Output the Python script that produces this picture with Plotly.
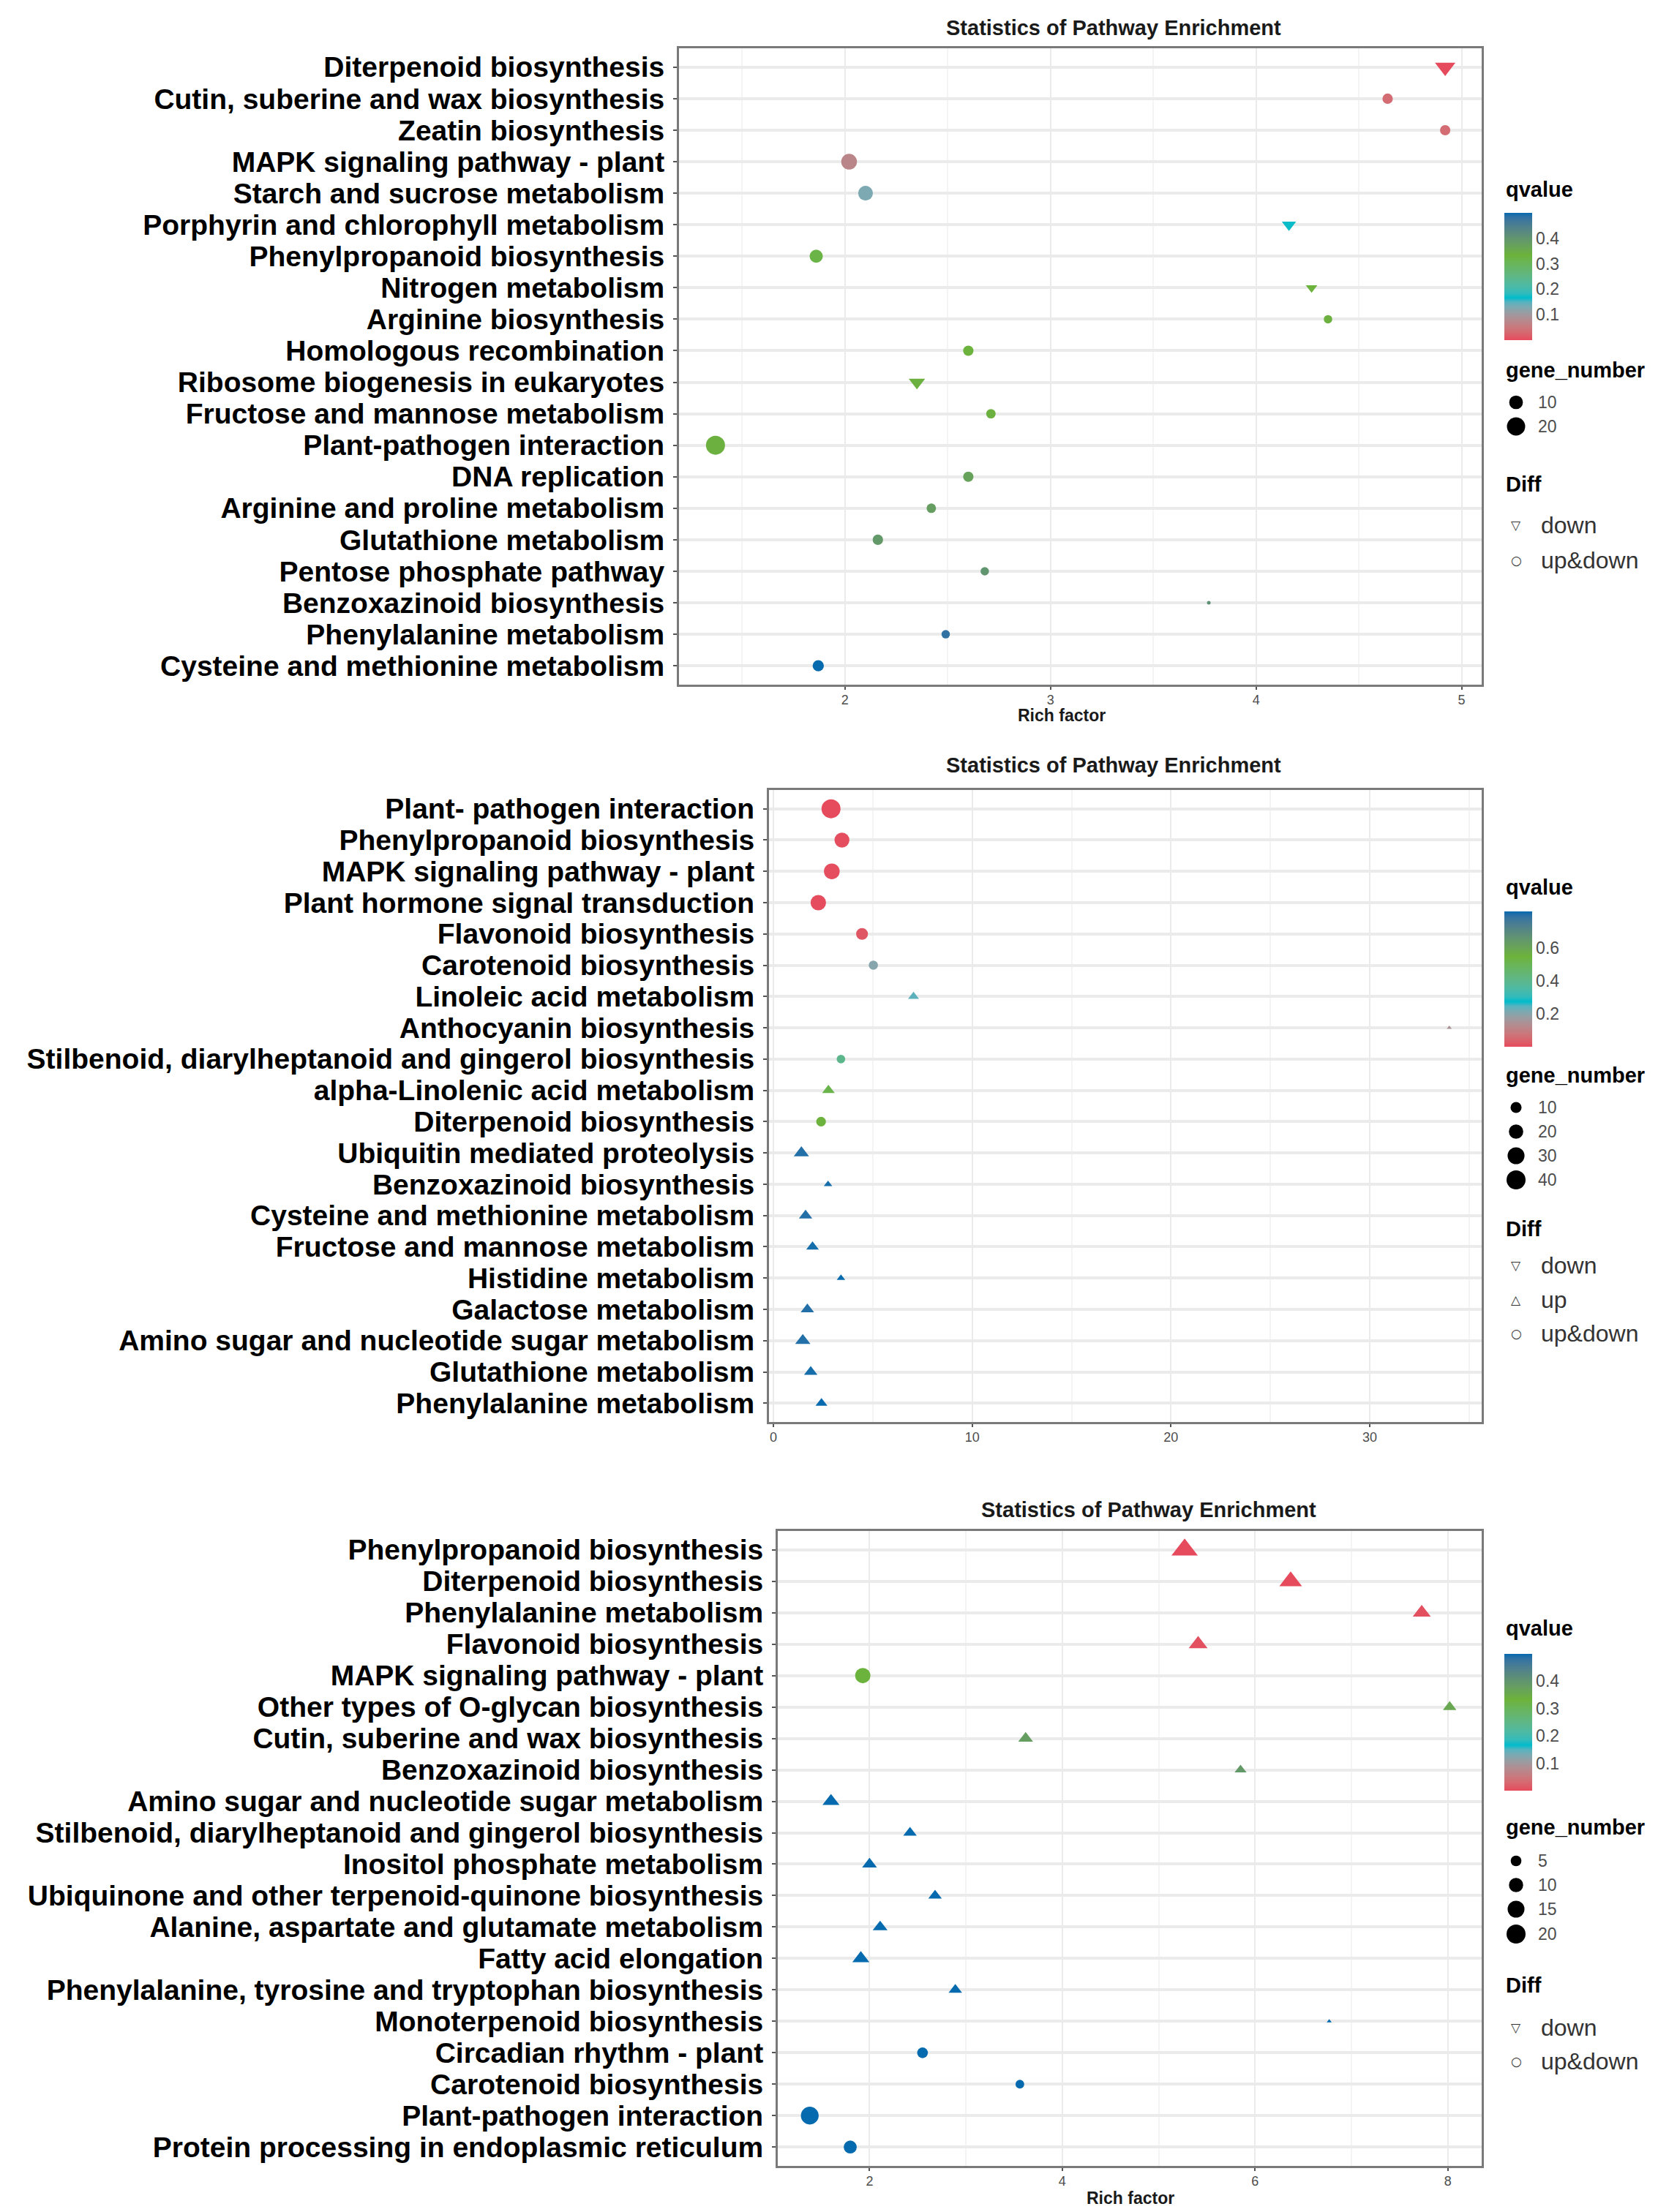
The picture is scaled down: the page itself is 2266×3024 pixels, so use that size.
import plotly.graph_objects as go
import numpy as np

# ---------------- DATA ----------------
# Panel 1
p1_pathways = ["Diterpenoid biosynthesis", "Cutin, suberine and wax biosynthesis", "Zeatin biosynthesis",
               "MAPK signaling pathway - plant", "Starch and sucrose metabolism",
               "Porphyrin and chlorophyll metabolism", "Phenylpropanoid biosynthesis", "Nitrogen metabolism",
               "Arginine biosynthesis", "Homologous recombination", "Ribosome biogenesis in eukaryotes",
               "Fructose and mannose metabolism", "Plant-pathogen interaction", "DNA replication",
               "Arginine and proline metabolism", "Glutathione metabolism", "Pentose phosphate pathway",
               "Benzoxazinoid biosynthesis", "Phenylalanine metabolism", "Cysteine and methionine metabolism"]
p1_rich = [4.92, 4.64, 4.92, 2.02, 2.10, 4.16, 1.86, 4.27, 4.35, 2.60, 2.35, 2.71, 1.37, 2.60, 2.42, 2.16,
           2.68, 3.77, 2.49, 1.87]
p1_q = [0.0, 0.035, 0.035, 0.07, 0.13, 0.17, 0.32, 0.33, 0.34, 0.33, 0.34, 0.34, 0.34, 0.37, 0.38, 0.39,
        0.40, 0.41, 0.48, 0.50]
p1_genes = [12, 5, 5, 14, 12, 5, 9, 3, 3, 5, 7, 4, 22, 5, 4, 5, 3, 1, 3, 6]
p1_diff = ["down", "up&down", "up&down", "up&down", "up&down", "down", "up&down", "down", "up&down",
           "up&down", "down", "up&down", "up&down", "up&down", "up&down", "up&down", "up&down", "up&down",
           "up&down", "up&down"]
p1_qticks = [0.1, 0.2, 0.3, 0.4]
p1_size_breaks = [10, 20]
p1_diff_legend = ["down", "up&down"]

# Panel 2
p2_pathways = ["Plant- pathogen interaction", "Phenylpropanoid biosynthesis", "MAPK signaling pathway - plant",
               "Plant hormone signal transduction", "Flavonoid biosynthesis", "Carotenoid biosynthesis",
               "Linoleic acid metabolism", "Anthocyanin biosynthesis",
               "Stilbenoid, diarylheptanoid and gingerol biosynthesis", "alpha-Linolenic acid metabolism",
               "Diterpenoid biosynthesis", "Ubiquitin mediated proteolysis", "Benzoxazinoid biosynthesis",
               "Cysteine and methionine metabolism", "Fructose and mannose metabolism", "Histidine metabolism",
               "Galactose metabolism", "Amino sugar and nucleotide sugar metabolism", "Glutathione metabolism",
               "Phenylalanine metabolism"]
p2_rich = [2.9, 3.45, 2.94, 2.26, 4.46, 5.03, 7.05, 34.0, 3.4, 2.77, 2.4, 1.41, 2.75, 1.62, 1.97, 3.4,
           1.71, 1.48, 1.88, 2.42]
p2_q = [0.0, 0.005, 0.005, 0.002, 0.02, 0.2, 0.24, 0.15, 0.4, 0.52, 0.55, 0.80, 0.81, 0.80, 0.81, 0.82,
        0.80, 0.80, 0.81, 0.82]
p2_genes = [40, 22, 25, 24, 12, 6, 4, 1, 5, 6, 7, 10, 2, 7, 6, 2, 7, 10, 7, 5]
p2_diff = ["up&down", "up&down", "up&down", "up&down", "up&down", "up&down", "up", "up", "up&down", "up",
           "up&down", "up", "up", "up", "up", "up", "up", "up", "up", "up"]
p2_qticks = [0.2, 0.4, 0.6]
p2_size_breaks = [10, 20, 30, 40]
p2_diff_legend = ["down", "up", "up&down"]

# Panel 3
p3_pathways = ["Phenylpropanoid biosynthesis", "Diterpenoid biosynthesis", "Phenylalanine metabolism",
               "Flavonoid biosynthesis", "MAPK signaling pathway - plant", "Other types of O-glycan biosynthesis",
               "Cutin, suberine and wax biosynthesis", "Benzoxazinoid biosynthesis",
               "Amino sugar and nucleotide sugar metabolism",
               "Stilbenoid, diarylheptanoid and gingerol biosynthesis", "Inositol phosphate metabolism",
               "Ubiquinone and other terpenoid-quinone biosynthesis",
               "Alanine, aspartate and glutamate metabolism", "Fatty acid elongation",
               "Phenylalanine, tyrosine and tryptophan biosynthesis", "Monoterpenoid biosynthesis",
               "Circadian rhythm - plant", "Carotenoid biosynthesis", "Plant-pathogen interaction",
               "Protein processing in endoplasmic reticulum"]
p3_rich = [5.27, 6.37, 7.73, 5.41, 1.93, 8.02, 3.62, 5.85, 1.60, 2.42, 2.00, 2.68, 2.11, 1.91, 2.89, 6.77,
           2.55, 3.56, 1.38, 1.80]
p3_q = [0.0, 0.0, 0.005, 0.005, 0.33, 0.36, 0.38, 0.39, 0.50, 0.50, 0.50, 0.50, 0.50, 0.50, 0.50, 0.50,
        0.50, 0.50, 0.50, 0.50]
p3_genes = [20, 14, 8, 9, 12, 4, 5, 3, 7, 4, 5, 4, 5, 7, 4, 1, 5, 3, 17, 8]
p3_diff = ["up", "up", "up", "up", "up&down", "up", "up", "up", "up", "up", "up", "up", "up", "up", "up",
           "up", "up&down", "up&down", "up&down", "up&down"]
p3_qticks = [0.1, 0.2, 0.3, 0.4]
p3_size_breaks = [5, 10, 15, 20]
p3_diff_legend = ["down", "up&down"]

TITLE = "Statistics of Pathway Enrichment"
XTITLE = "Rich factor"

# ---------------- STYLE HELPERS ----------------
W, H = 2266, 3024


def hex2rgb(h):
    h = h.lstrip("#")
    return [int(h[i:i + 2], 16) / 255 for i in (0, 2, 4)]


def rgb2lab(c):
    lin = [((v + 0.055) / 1.055) ** 2.4 if v > 0.04045 else v / 12.92 for v in c]
    M = np.array([[0.4124, 0.3576, 0.1805], [0.2126, 0.7152, 0.0722], [0.0193, 0.1192, 0.9505]])
    X, Y, Z = M @ np.array(lin)
    X /= 0.95047; Z /= 1.08883

    def f(t):
        return t ** (1 / 3) if t > 0.008856 else 7.787 * t + 16 / 116
    return np.array([116 * f(Y) - 16, 500 * (f(X) - f(Y)), 200 * (f(Y) - f(Z))])


def lab2hex(lab):
    L, a, b = lab
    fy = (L + 16) / 116; fx = fy + a / 500; fz = fy - b / 200

    def finv(t):
        return t ** 3 if t ** 3 > 0.008856 else (t - 16 / 116) / 7.787
    X, Y, Z = finv(fx) * 0.95047, finv(fy), finv(fz) * 1.08883
    Mi = np.array([[3.2406, -1.5372, -0.4986], [-0.9689, 1.8758, 0.0415], [0.0557, -0.2040, 1.0570]])
    lin = Mi @ np.array([X, Y, Z])
    out = []
    for v in lin:
        v = min(max(v, 0), 1)
        v = 1.055 * v ** (1 / 2.4) - 0.055 if v > 0.0031308 else 12.92 * v
        out.append(int(round(min(max(v, 0), 1) * 255)))
    return "#%02x%02x%02x" % tuple(out)


anchors = ["#E64B5D", "#00BCCB", "#6CB33A", "#066AAE"]
labs = [rgb2lab(hex2rgb(h)) for h in anchors]
colorscale = []
N = 30
for i in range(N + 1):
    t = i / N
    seg = min(int(t * 3), 2)
    lt = t * 3 - seg
    colorscale.append([t, lab2hex(labs[seg] * (1 - lt) + labs[seg + 1] * lt)])

DMIN, DMAX = 5.0, 26.0
TRI_FACTOR = 1.2


def size_scale(vals, lo, hi):
    vals = np.asarray(vals, dtype=float)
    return DMIN + (DMAX - DMIN) * np.sqrt((vals - lo) / (hi - lo))


SYM = {"down": "triangle-down", "up": "triangle-up", "up&down": "circle"}
LEG_SYM = {"down": "▽", "up": "△", "up&down": "○"}

SANS = "Liberation Sans, Arial, sans-serif"
LABEL_FONT = dict(family=SANS, size=39, color="black", weight="bold")

panels = [
    dict(names=p1_pathways, rich=p1_rich, q=p1_q, genes=p1_genes, diff=p1_diff, qticks=p1_qticks,
         breaks=p1_size_breaks, dleg=p1_diff_legend,
         box=(920, 2017, 58, 928), dtick=1, minor=0.5, title_xy=(1514, 30), xtitle_xy=(1443, 970),
         cb=(283, 457), leg_y=dict(q=251, gene=498, br=[542, 575], diff=654, dl=[710, 758])),
    dict(names=p2_pathways, rich=p2_rich, q=p2_q, genes=p2_genes, diff=p2_diff, qticks=p2_qticks,
         breaks=p2_size_breaks, dleg=p2_diff_legend,
         box=(1043, 2017, 1072, 1936), dtick=10, minor=5, title_xy=(1514, 1038), xtitle_xy=None,
         cb=(1238, 1423), leg_y=dict(q=1205, gene=1462, br=[1506, 1539, 1572, 1605], diff=1672,
                                     dl=[1722, 1769, 1815])),
    dict(names=p3_pathways, rich=p3_rich, q=p3_q, genes=p3_genes, diff=p3_diff, qticks=p3_qticks,
         breaks=p3_size_breaks, dleg=p3_diff_legend,
         box=(1055, 2017, 2085, 2953), dtick=2, minor=1, title_xy=(1562, 2056), xtitle_xy=(1537, 2997),
         cb=(2253, 2440), leg_y=dict(q=2218, gene=2490, br=[2536, 2569, 2602, 2636], diff=2706,
                                     dl=[2764, 2810])),
]

fig = go.Figure()
annotations = []
shapes = []
layout = {}

for i, p in enumerate(panels, start=1):
    sfx = "" if i == 1 else str(i)
    gmin, gmax = min(p["genes"]), max(p["genes"])
    qmin, qmax = min(p["q"]), max(p["q"])
    sizes = size_scale(p["genes"], gmin, gmax)
    sizes = [s * (TRI_FACTOR if d != "up&down" else 1.0) for s, d in zip(sizes, p["diff"])]
    fig.add_trace(go.Scatter(
        x=p["rich"], y=p["names"], mode="markers",
        xaxis="x" + sfx, yaxis="y" + sfx,
        marker=dict(color=p["q"], coloraxis="coloraxis" + sfx, size=sizes,
                    symbol=[SYM[d] for d in p["diff"]], line=dict(width=0), opacity=1),
        showlegend=False))

    x0, x1, y0, y1 = p["box"]
    xmin, xmax = min(p["rich"]), max(p["rich"])
    pad = (xmax - xmin) * 0.05
    n = len(p["names"])
    layout["xaxis" + sfx] = dict(
        domain=[x0 / W, x1 / W], anchor="y" + sfx, range=[xmin - pad, xmax + pad],
        dtick=p["dtick"], tick0=0, showgrid=True, gridcolor="#EBEBEB", gridwidth=2,
        minor=dict(dtick=p["minor"], showgrid=True, gridcolor="#F4F4F4", gridwidth=1.5),
        showline=True, mirror=True, linecolor="#7a7a7a", linewidth=3, zeroline=False,
        ticks="outside", ticklen=4, tickwidth=2, tickcolor="#555555", ticklabelstandoff=-2,
        tickfont=dict(family=SANS, size=18, color="#4d4d4d"))
    layout["yaxis" + sfx] = dict(
        domain=[1 - y1 / H, 1 - y0 / H], anchor="x" + sfx, type="category",
        categoryorder="array", categoryarray=p["names"], range=[n - 1 + 0.6, -0.6],
        tickmode="array", tickvals=p["names"], ticktext=p["names"],
        showgrid=True, gridcolor="#EBEBEB", gridwidth=4,
        showline=True, mirror=True, linecolor="#7a7a7a", linewidth=3, zeroline=False,
        ticks="outside", ticklen=5, tickwidth=2, tickcolor="#555555", ticklabelstandoff=4,
        tickfont=LABEL_FONT)

    cb_top, cb_bot = p["cb"]
    layout["coloraxis" + sfx] = dict(
        colorscale=colorscale, cmin=qmin, cmax=qmax,
        colorbar=dict(x=2048 / W, xanchor="left", xpad=0, y=1 - (cb_top + cb_bot) / 2 / H, yanchor="middle",
                      ypad=0, lenmode="pixels", len=cb_bot - cb_top, thicknessmode="pixels", thickness=38,
                      outlinewidth=0, tickvals=p["qticks"], ticktext=[str(v) for v in p["qticks"]],
                      ticks="", tickfont=dict(family=SANS, size=23, color="#4d4d4d")))
    # white tick marks inside the colour bar (both edges)
    for v in p["qticks"]:
        yy = cb_bot - (v - qmin) / (qmax - qmin) * (cb_bot - cb_top)
        for xa, xs in ((2048, (0, 7)), (2086, (-7, 0))):
            shapes.append(dict(type="line", xref="paper", yref="paper", xsizemode="pixel",
                               xanchor=xa / W, x0=xs[0], x1=xs[1], y0=1 - yy / H, y1=1 - yy / H,
                               line=dict(color="white", width=2)))

    # titles
    tx, ty = p["title_xy"]
    annotations.append(dict(text=TITLE, x=tx / W, y=1 - ty / H, xref="paper", yref="paper",
                            xanchor="center", yanchor="middle", showarrow=False,
                            font=dict(family=SANS, size=29, color="#1a1a1a", weight="bold")))
    if p["xtitle_xy"]:
        ax_, ay_ = p["xtitle_xy"]
        annotations.append(dict(text=XTITLE, x=ax_ / W, y=1 - ay_ / H, xref="paper", yref="paper",
                                xanchor="center", yanchor="middle", showarrow=False,
                                font=dict(family=SANS, size=23, color="#1a1a1a", weight="bold")))

    ly = p["leg_y"]
    legx = 2048 / W
    for txt, yy in (("qvalue", ly["q"]), ("gene_number", ly["gene"]), ("Diff", ly["diff"])):
        annotations.append(dict(text=txt, x=legx, y=1 - yy / H, xref="paper", yref="paper",
                                xanchor="left", yanchor="middle", showarrow=False,
                                font=dict(family=SANS, size=29, color="black", weight="bold")))
    bsz = size_scale(p["breaks"], gmin, gmax)
    for b, d, yy in zip(p["breaks"], bsz, ly["br"]):
        shapes.append(dict(type="circle", xref="paper", yref="paper", xsizemode="pixel", ysizemode="pixel",
                           xanchor=2064 / W, yanchor=1 - yy / H, x0=-d / 2, x1=d / 2, y0=-d / 2, y1=d / 2,
                           fillcolor="black", line=dict(width=0)))
        annotations.append(dict(text=str(b), x=2092 / W, y=1 - yy / H, xref="paper", yref="paper",
                                xanchor="left", yanchor="middle", showarrow=False,
                                font=dict(family=SANS, size=23, color="#4d4d4d")))
    for lab, yy in zip(p["dleg"], ly["dl"]):
        annotations.append(dict(text=LEG_SYM[lab], x=2064 / W, y=1 - yy / H, xref="paper", yref="paper",
                                xanchor="center", yanchor="middle", showarrow=False,
                                font=dict(family="DejaVu Sans, sans-serif", size=17, color="#333333")))
        annotations.append(dict(text=lab, x=2096 / W, y=1 - yy / H, xref="paper", yref="paper",
                                xanchor="left", yanchor="middle", showarrow=False,
                                font=dict(family=SANS, size=32, color="#333333")))

fig.update_layout(**layout)
fig.update_layout(width=W, height=H, margin=dict(l=0, r=0, t=0, b=0),
                  paper_bgcolor="white", plot_bgcolor="white",
                  annotations=annotations, shapes=shapes, showlegend=False)

fig.write_html("out.html")
